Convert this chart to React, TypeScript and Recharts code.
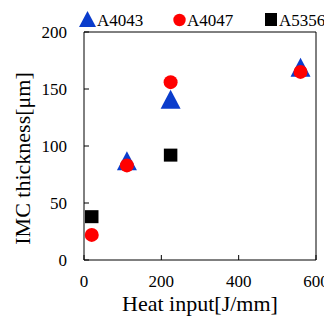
import React from 'react';
import { ScatterChart, Scatter, XAxis, YAxis, ReferenceLine } from 'recharts';

// heat input [J/mm] vs IMC thickness [um], one array per filler
const a4043X = [111, 224, 560];
const a4043Y = [87, 141, 169];
const a4047X = [20, 111, 224, 560];
const a4047Y = [22, 83, 156, 165];
const a5356X = [20, 224];
const a5356Y = [38, 92];

const xTicks = [0, 200, 400, 600];
const yTicks = [0, 50, 100, 150, 200];

const BLUE = '#0a3ccc';
const RED = '#ff0000';
const BLACK = '#000000';
const FONT = '"Liberation Serif", "Times New Roman", serif';

const toPoints = (xs: number[], ys: number[]) => xs.map((x, i) => ({ x, y: ys[i] }));

const Triangle = (props: any) => {
  const { cx, cy } = props;
  return (
    <polygon
      points={`${cx},${cy - 9.5} ${cx - 10},${cy + 9.5} ${cx + 10},${cy + 9.5}`}
      fill={BLUE}
    />
  );
};

const Dot = (props: any) => <circle cx={props.cx} cy={props.cy} r={7} fill={RED} />;

const Square = (props: any) => (
  <rect x={props.cx - 6.75} y={props.cy - 6.5} width={13.5} height={13} fill={BLACK} />
);

const XTick = (props: any) => (
  <text x={props.x} y={287} textAnchor="middle" fontSize={17} fontFamily={FONT} fill="#000">
    {props.payload.value}
  </text>
);

const YTick = (props: any) => (
  <text x={67} y={props.y + 6} textAnchor="end" fontSize={17} fontFamily={FONT} fill="#000">
    {props.payload.value}
  </text>
);

const YLabel = () => (
  <text x={30} y={158.5} transform="rotate(-90 30 158.5)" textAnchor="middle" fontSize={22} fontFamily={FONT} fill="#000">
    IMC thickness[μm]
  </text>
);

const XLabel = () => (
  <text x={200} y={311} textAnchor="middle" fontSize={22} fontFamily={FONT} fill="#000">
    Heat input[J/mm]
  </text>
);

// legend sits above the frame, drawn by hand
const LegendRow = () => (
  <svg width={324} height={32} style={{ position: 'absolute', left: 0, top: 0 }}>
    <polygon points="87.5,11 79,27 96,27" fill={BLUE} />
    <text x={97} y={26} fontSize={17} fontFamily={FONT} fill="#000">A4043</text>
    <circle cx={179.5} cy={20} r={6.2} fill={RED} />
    <text x={187} y={26} fontSize={17} fontFamily={FONT} fill="#000">A4047</text>
    <rect x={265} y={13} width={12} height={13} fill={BLACK} />
    <text x={279} y={26} fontSize={17} fontFamily={FONT} fill="#000">A5356</text>
  </svg>
);

export default function App() {
  return (
    <div style={{ position: 'absolute', left: 0, top: 0, width: 324, height: 320, background: '#fff', fontFamily: FONT, overflow: 'hidden' }}>
      <ScatterChart width={324} height={320} margin={{ top: 32, right: 8, left: 0, bottom: 0 }}>
        <XAxis
          type="number"
          dataKey="x"
          domain={[0, 600]}
          ticks={xTicks}
          interval={0}
          height={60}
          axisLine={{ stroke: '#000' }}
          tickLine={{ stroke: '#000' }}
          tickSize={-5}
          tick={<XTick />}
          label={<XLabel />}
        />
        <YAxis
          type="number"
          dataKey="y"
          domain={[0, 200]}
          ticks={yTicks}
          interval={0}
          width={84}
          axisLine={{ stroke: '#000' }}
          tickLine={{ stroke: '#000' }}
          tickSize={-5}
          tick={<YTick />}
          label={<YLabel />}
        />
        <ReferenceLine y={200} stroke="#000" />
        <ReferenceLine x={600} stroke="#000" />
        <Scatter data={toPoints(a4043X, a4043Y)} shape={Triangle} isAnimationActive={false} />
        <Scatter data={toPoints(a4047X, a4047Y)} shape={Dot} isAnimationActive={false} />
        <Scatter data={toPoints(a5356X, a5356Y)} shape={Square} isAnimationActive={false} />
      </ScatterChart>
      <LegendRow />
    </div>
  );
}
